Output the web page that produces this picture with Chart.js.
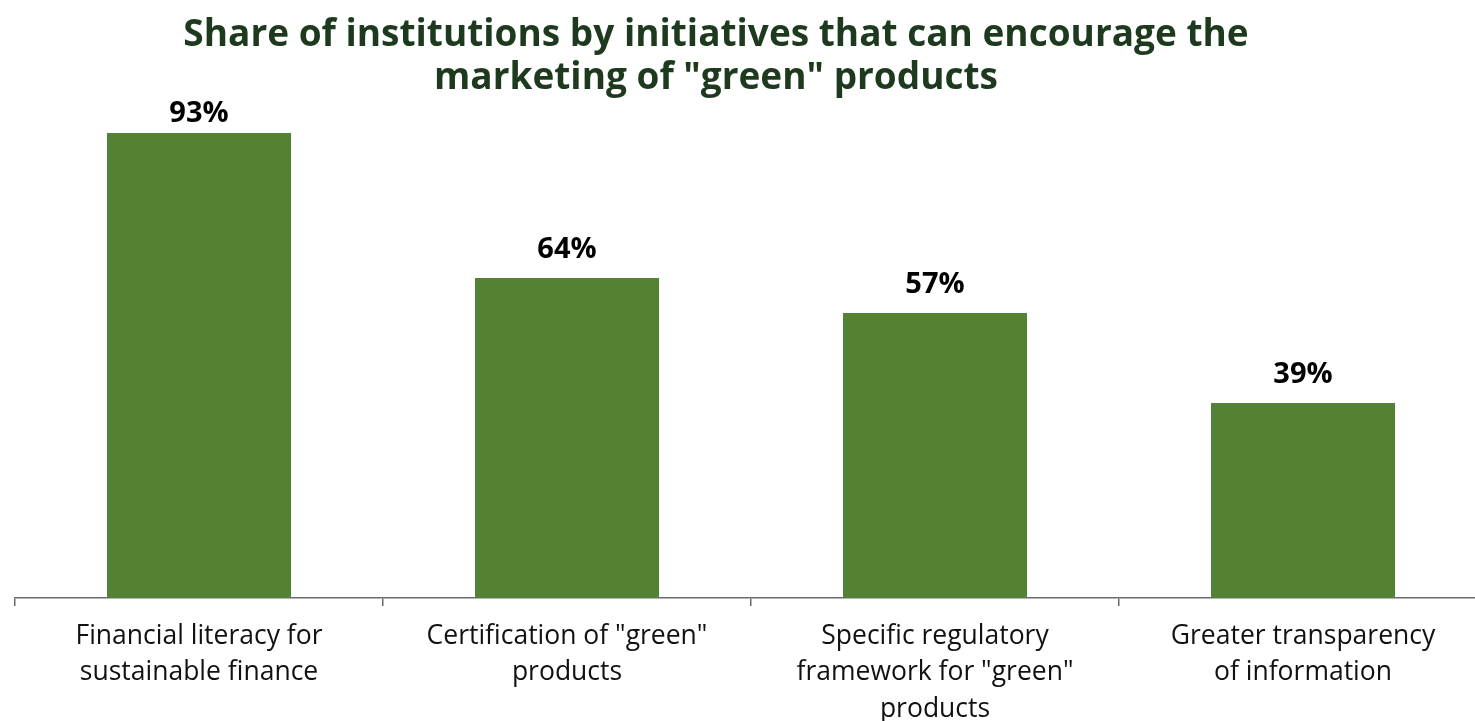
<!DOCTYPE html>
<html>
<head>
<meta charset="utf-8">
<script src="https://cdn.jsdelivr.net/npm/chart.js@4.4.1/dist/chart.umd.min.js"></script>
<style>
  html, body { margin: 0; padding: 0; background: #fff; overflow: hidden; }
  #wrap { position: relative; width: 1475px; height: 721px; overflow: hidden; }
  #chart { position: absolute; left: 0; top: 0; }
  #title {
    position: absolute; left: 0; top: 10px; width: 1432px;
    text-align: center; font-family: "Open Sans", sans-serif; font-weight: bold;
    font-size: 37px; line-height: 43px; color: #1e3a1e;
  }
</style>
</head>
<body>
<div id="wrap">
  <canvas id="chart" width="1490" height="740"></canvas>
  <div id="title">Share of institutions by initiatives that can encourage the<br>marketing of "green" products</div>
</div>
<script>
var categories = [
  ["Financial literacy for", "sustainable finance"],
  ["Certification of \"green\"", "products"],
  ["Specific regulatory", "framework for \"green\"", "products"],
  ["Greater transparency", "of information"]
];
var shares = [93, 64, 57, 39];

// value labels above bars (pushed down when near the top)
var barLabels = {
  id: "barLabels",
  afterDatasetsDraw: function (chart) {
    var c = chart.ctx;
    var meta = chart.getDatasetMeta(0);
    var minY = chart.chartArea.top + 24;
    c.save();
    c.font = "bold 29px 'Open Sans'";
    c.fillStyle = "#000";
    c.textAlign = "center";
    c.textBaseline = "alphabetic";
    meta.data.forEach(function (bar, i) {
      c.fillText(shares[i] + "%", bar.x, Math.max(bar.y - 20, minY));
    });
    c.restore();
  }
};

var ctx = document.getElementById("chart");

new Chart(ctx, {
  type: "bar",
  data: {
    labels: categories,
    datasets: [
      {
        label: "Share of institutions",
        data: shares,
        backgroundColor: "#548235",
        barPercentage: 0.5,
        categoryPercentage: 1
      }
    ]
  },
  options: {
    responsive: false,
    animation: false,
    layout: {
      padding: { left: 15, right: 3, top: 98, bottom: 0 }
    },
    plugins: {
      legend: { display: false },
      tooltip: { enabled: false }
    },
    scales: {
      y: {
        display: false,
        min: 0,
        max: 100
      },
      x: {
        border: { color: "#6b6b6b", width: 1.5 },
        grid: {
          offset: true,
          drawOnChartArea: false,
          color: "#6b6b6b",
          lineWidth: 1.5,
          tickLength: 8
        },
        ticks: {
          color: "#111",
          padding: 13,
          maxRotation: 0,
          autoSkip: false,
          font: { family: "'Open Sans'", size: 26.5, lineHeight: 1.36 }
        }
      }
    }
  },
  plugins: [barLabels]
});
</script>
</body>
</html>
